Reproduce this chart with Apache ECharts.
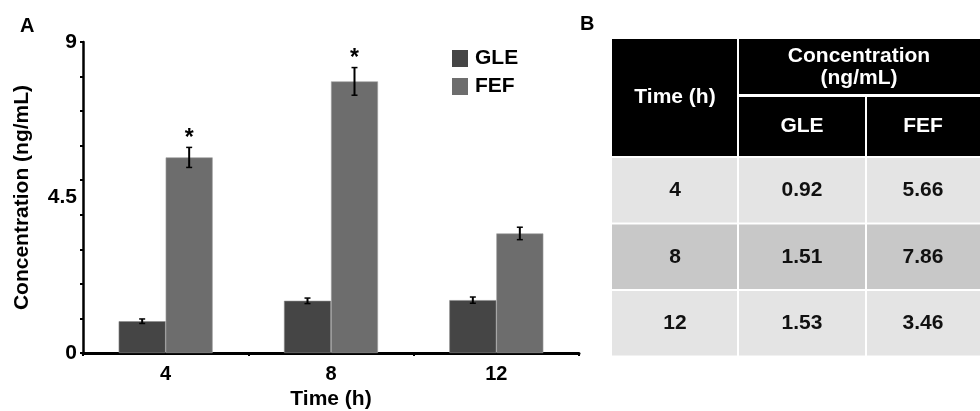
<!DOCTYPE html>
<html>
<head>
<meta charset="utf-8">
<script src="https://cdn.jsdelivr.net/npm/echarts@6/dist/echarts.min.js"></script>
<style>
html,body{margin:0;padding:0;background:#fff;}
#chart{width:980px;height:411px;}
</style>
</head>
<body>
<div id="chart"></div>
<script>
// ---- data ----
var categories = ['4', '8', '12'];
var gleValues = [0.92, 1.51, 1.53];
var fefValues = [5.66, 7.86, 3.46];
var gleErrors = [0.065, 0.08, 0.09];
var fefErrors = [0.29, 0.40, 0.18];
var fefSignificant = [true, true, false];
var yTickLabels = [0, 4.5, 9];
var tableHeaderTime = 'Time (h)';
var tableHeaderConc = ['Concentration', '(ng/mL)'];
var seriesNames = ['GLE', 'FEF'];

// ---- styles ----
var FONT = '"Liberation Sans", Arial, Helvetica, sans-serif';
var GLE_COLOR = '#454545';
var FEF_COLOR = '#6d6d6d';
var BAR_W = 47;

var chart = echarts.init(document.getElementById('chart'));

function errorSeries(name, values, errors, sign, sig) {
  return {
    type: 'custom',
    name: name + ' err',
    xAxisIndex: 0, yAxisIndex: 0,
    silent: true,
    z: 5,
    data: values.map(function (v, i) { return [i, v, errors[i], sig ? (sig[i] ? 1 : 0) : 0]; }),
    renderItem: function (params, api) {
      var i = api.value(0), v = api.value(1), e = api.value(2), s = api.value(3);
      var top = api.coord([i, v + e]);
      var bot = api.coord([i, v - e]);
      var x = top[0] + sign * BAR_W / 2;
      var cap = 3;
      var children = [
        { type: 'line', shape: { x1: x, y1: top[1], x2: x, y2: bot[1] }, style: { stroke: '#000', lineWidth: 2 } },
        { type: 'line', shape: { x1: x - cap, y1: top[1], x2: x + cap, y2: top[1] }, style: { stroke: '#000', lineWidth: 1.5 } },
        { type: 'line', shape: { x1: x - cap, y1: bot[1], x2: x + cap, y2: bot[1] }, style: { stroke: '#000', lineWidth: 1.5 } }
      ];
      if (s) {
        children.push({ type: 'text', x: x, y: top[1] - 9, style: { text: '*', font: 'bold 23px ' + FONT, fill: '#000', align: 'center', verticalAlign: 'middle' } });
      }
      return { type: 'group', children: children };
    }
  };
}

// ---- table (panel B) built from the same data ----
var tbl = { x0: 612, x1: 738, x2: 866, x3: 980, yTop: 39, yMid: 95, yHead: 156, rowH: 66.5 };
var rowFills = ['#e4e4e4', '#c8c8c8', '#e4e4e4'];
var g = [];
g.push({ type: 'text', left: 20, top: 16, style: { text: 'A', font: 'bold 20px ' + FONT, fill: '#000' } });
g.push({ type: 'text', left: 580, top: 14, style: { text: 'B', font: 'bold 20px ' + FONT, fill: '#000' } });
g.push({ type: 'rect', shape: { x: tbl.x0, y: tbl.yTop, width: tbl.x3 - tbl.x0, height: tbl.yHead - tbl.yTop }, style: { fill: '#000' } });
g.push({ type: 'rect', shape: { x: tbl.x1 - 1, y: tbl.yTop, width: 2, height: tbl.yHead - tbl.yTop }, style: { fill: '#fff' } });
g.push({ type: 'rect', shape: { x: tbl.x1, y: tbl.yMid - 1, width: tbl.x3 - tbl.x1, height: 3 }, style: { fill: '#fff' } });
g.push({ type: 'rect', shape: { x: tbl.x2 - 1, y: tbl.yMid + 1, width: 2, height: tbl.yHead - tbl.yMid - 1 }, style: { fill: '#fff' } });
var hfont = 'bold 21px ' + FONT;
g.push({ type: 'text', x: (tbl.x0 + tbl.x1) / 2, y: (tbl.yTop + tbl.yHead) / 2, style: { text: tableHeaderTime, font: hfont, fill: '#fff', align: 'center', verticalAlign: 'middle' } });
g.push({ type: 'text', x: (tbl.x1 + tbl.x3) / 2, y: (tbl.yTop + tbl.yMid) / 2, style: { text: tableHeaderConc.join('\n'), font: hfont, lineHeight: 22, fill: '#fff', align: 'center', verticalAlign: 'middle' } });
g.push({ type: 'text', x: (tbl.x1 + tbl.x2) / 2, y: (tbl.yMid + tbl.yHead) / 2 + 1, style: { text: seriesNames[0], font: hfont, fill: '#fff', align: 'center', verticalAlign: 'middle' } });
g.push({ type: 'text', x: (tbl.x2 + tbl.x3) / 2, y: (tbl.yMid + tbl.yHead) / 2 + 1, style: { text: seriesNames[1], font: hfont, fill: '#fff', align: 'center', verticalAlign: 'middle' } });
categories.forEach(function (c, r) {
  var y = tbl.yHead + 2 + r * tbl.rowH;
  var h = tbl.rowH - 2;
  var cols = [[tbl.x0, tbl.x1, c], [tbl.x1, tbl.x2, gleValues[r].toFixed(2)], [tbl.x2, tbl.x3, fefValues[r].toFixed(2)]];
  cols.forEach(function (col, k) {
    var xa = col[0] + (k > 0 ? 1 : 0), xb = col[1] - (k < 2 ? 1 : 0);
    g.push({ type: 'rect', shape: { x: xa, y: y, width: xb - xa, height: h }, style: { fill: rowFills[r] } });
    g.push({ type: 'text', x: (col[0] + col[1]) / 2, y: y + h / 2, style: { text: col[2], font: hfont, fill: '#111', align: 'center', verticalAlign: 'middle' } });
  });
});

var option = {
  backgroundColor: '#fff',
  animation: false,
  textStyle: { fontFamily: FONT },
  grid: { left: 83, right: 401, top: 42, bottom: 58, containLabel: false, outerBoundsMode: 'none' },
  legend: {
    orient: 'vertical', left: 452, top: 48, padding: 0,
    itemWidth: 16, itemHeight: 17, itemGap: 7,
    data: seriesNames,
    itemStyle: { borderWidth: 0 },
    textStyle: { fontFamily: FONT, fontWeight: 'bold', fontSize: 21, color: '#000', padding: [0, 0, 0, 2] },
    icon: 'rect'
  },
  xAxis: [{
    type: 'category', data: categories,
    axisLine: { lineStyle: { color: '#000', width: 3 } },
    axisTick: { show: true, alignWithLabel: false, length: 3, lineStyle: { color: '#000', width: 2 } },
    axisLabel: { color: '#000', fontWeight: 'bold', fontSize: 20, margin: 11, fontFamily: FONT },
    name: 'Time (h)', nameLocation: 'middle', nameGap: 30,
    nameTextStyle: { color: '#000', fontWeight: 'bold', fontSize: 21, fontFamily: FONT }
  }],
  yAxis: [{
    type: 'value', min: 0, max: 9, interval: 4.5,
    axisLine: { show: true, lineStyle: { color: '#000', width: 2.5 } },
    axisTick: { show: false },
    splitLine: { show: false },
    axisLabel: { color: '#000', fontWeight: 'bold', fontSize: 21, margin: 6, fontFamily: FONT,
      formatter: function (v) { return yTickLabels.indexOf(v) >= 0 ? String(v) : ''; } },
    name: 'Concentration (ng/mL)', nameLocation: 'middle', nameGap: 50, nameRotate: 90,
    nameTextStyle: { color: '#000', fontWeight: 'bold', fontSize: 21, fontFamily: FONT }
  }, {
    type: 'value', min: 0, max: 9, interval: 1, position: 'left',
    axisLine: { show: false },
    axisTick: { show: true, length: 3, lineStyle: { color: '#000', width: 2 } },
    axisLabel: { show: false },
    splitLine: { show: false }
  }],
  series: [
    { name: seriesNames[0], type: 'bar', data: gleValues, barWidth: BAR_W, barGap: '0%',
      itemStyle: { color: GLE_COLOR, borderColor: '#8a8a8a', borderWidth: 0.6 } },
    { name: seriesNames[1], type: 'bar', data: fefValues, barWidth: BAR_W, barGap: '0%',
      itemStyle: { color: FEF_COLOR, borderColor: '#a0a0a0', borderWidth: 0.6 } },
    errorSeries(seriesNames[0], gleValues, gleErrors, -1, null),
    errorSeries(seriesNames[1], fefValues, fefErrors, 1, fefSignificant)
  ],
  graphic: g
};
chart.setOption(option);
</script>
</body>
</html>
